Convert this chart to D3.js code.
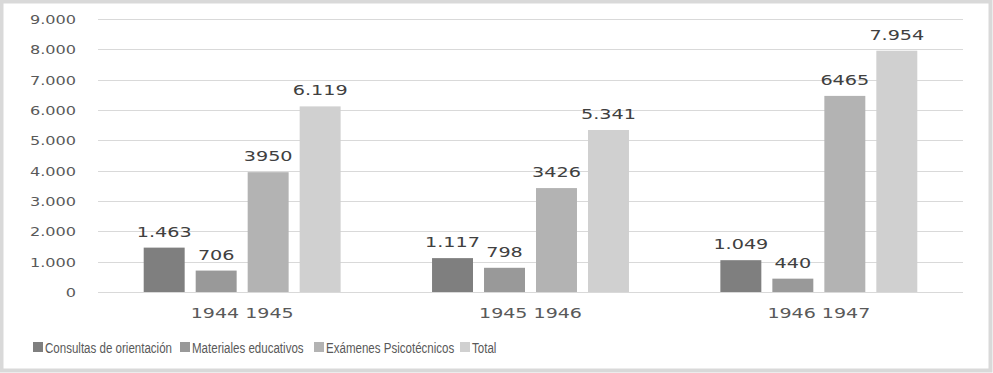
<!DOCTYPE html>
<html><head><meta charset="utf-8">
<script src="https://cdn.jsdelivr.net/npm/d3@7"></script>
<style>
html,body{margin:0;padding:0;background:#fff;}
svg{display:block;}
</style></head>
<body>
<svg id="chart" width="993" height="373"></svg>
<script>
const categories = ["1944 1945", "1945 1946", "1946 1947"];
const seriesNames = ["Consultas de orientación", "Materiales educativos", "Exámenes Psicotécnicos", "Total"];
const consultas = [1463, 1117, 1049];
const materiales = [706, 798, 440];
const examenes = [3950, 3426, 6465];
const total = [6119, 5341, 7954];
const seriesGrouped = [true, true, false, true];
const yTicks = [0, 1000, 2000, 3000, 4000, 5000, 6000, 7000, 8000, 9000];
const colors = ["#7f7f7f", "#999999", "#b3b3b3", "#d0d0d0"];

const seriesValues = [consultas, materiales, examenes, total];
const W = 993, H = 373;
const margin = {left: 98, right: 30, top: 19, bottom: 81};
const svg = d3.select("#chart");

const locale = d3.formatLocale({decimal: ",", thousands: ".", grouping: [3], currency: ["", ""]});
const fmtGroup = locale.format(",d");
const fmtPlain = d3.format("d");

// frame
svg.append("rect").attr("x", 1.5).attr("y", 1.5).attr("width", W - 4).attr("height", H - 4)
  .attr("fill", "#fff").attr("stroke", "#d9d9d9").attr("stroke-width", 4);

const x0 = d3.scaleBand().domain(categories).range([margin.left, W - margin.right])
  .paddingInner(0.317).paddingOuter(0.1585);
const x1 = d3.scaleBand().domain(d3.range(4)).range([0, x0.bandwidth()]).paddingInner(0.212).paddingOuter(0);
const y = d3.scaleLinear().domain([0, 9000]).range([H - margin.bottom, margin.top]);

function stretchedText(g, x, yy, txt, sx, anchor) {
  return g.append("text").attr("transform", `translate(${x},${yy}) scale(${sx},1)`)
    .attr("text-anchor", anchor).text(txt);
}

// grid
svg.append("g").selectAll("line").data(yTicks).join("line")
  .attr("x1", margin.left).attr("x2", W - margin.right)
  .attr("y1", d => Math.round(y(d)) + 0.5).attr("y2", d => Math.round(y(d)) + 0.5)
  .attr("stroke", "#d9d9d9").attr("stroke-width", 1);

// y tick labels
const yl = svg.append("g").attr("font-family", "DejaVu Sans").attr("font-size", 13).attr("fill", "#595959");
yTicks.forEach(t => stretchedText(yl, 76, y(t) + 5, fmtGroup(t), 1.24, "end"));

// bars
const gGroups = svg.append("g").selectAll("g").data(categories).join("g")
  .attr("transform", d => `translate(${x0(d)},0)`);
gGroups.selectAll("rect").data((c, ci) => seriesValues.map((s, si) => ({si, v: s[ci]})))
  .join("rect")
  .attr("x", d => x1(d.si)).attr("width", x1.bandwidth())
  .attr("y", d => y(d.v)).attr("height", d => y(0) - y(d.v))
  .attr("fill", d => colors[d.si]);

// data labels
const lab = svg.append("g").attr("font-family", "DejaVu Sans").attr("font-size", 14).attr("fill", "#404040");
categories.forEach((c, ci) => {
  seriesValues.forEach((s, si) => {
    const v = s[ci];
    const txt = seriesGrouped[si] ? fmtGroup(v) : fmtPlain(v);
    stretchedText(lab, x0(c) + x1(si) + x1.bandwidth() / 2, y(v) - 11, txt, 1.37, "middle");
  });
});

// category labels
const cl = svg.append("g").attr("font-family", "DejaVu Sans").attr("font-size", 14).attr("fill", "#595959");
categories.forEach(c => stretchedText(cl, x0(c) + x0.bandwidth() / 2, 318, c, 1.36, "middle"));

// legend
const leg = svg.append("g").attr("font-family", "Liberation Sans").attr("font-size", 15.5).attr("fill", "#595959");
const legX = [33, 180, 314, 460];
seriesNames.forEach((n, i) => {
  leg.append("rect").attr("x", legX[i]).attr("y", 342).attr("width", 10).attr("height", 10).attr("fill", colors[i]);
  stretchedText(leg, legX[i] + 12, 353, n, 0.745, "start");
});
</script>
</body></html>
